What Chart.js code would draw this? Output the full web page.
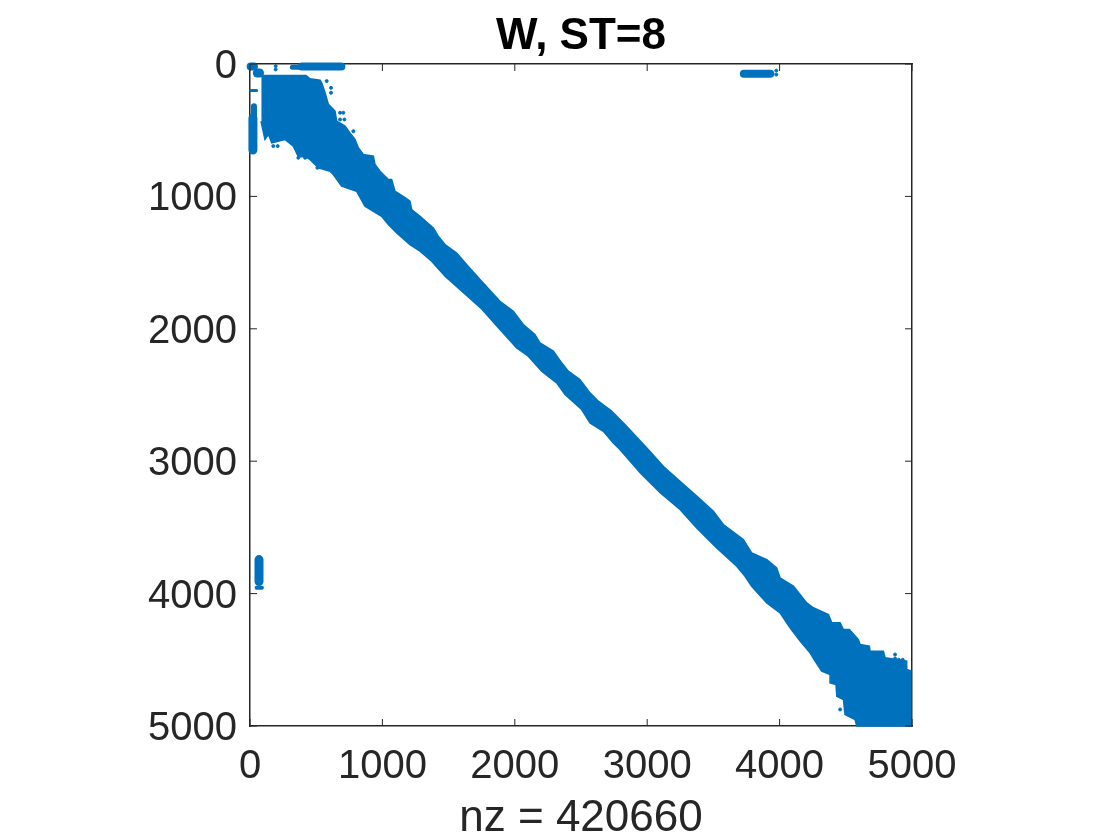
<!DOCTYPE html>
<html>
<head>
<meta charset="utf-8">
<title>W, ST=8</title>
<script src="https://cdn.jsdelivr.net/npm/chart.js@4"></script>
<style>
    html, body { margin: 0; padding: 0; background: #fff; }
    canvas { display: block; }
</style>
</head>
<body>
<canvas id="spyChart" width="1120" height="840"></canvas>
<script>
// Axis ticks
const tickValues = [0, 1000, 2000, 3000, 4000, 5000];

// Main diagonal band, upper and lower edge
const bandTopX = [85, 423, 453, 529, 541, 567, 592, 642, 655, 718, 755, 793, 818, 856, 932, 944, 982, 1045, 1070, 1095, 1171, 1208, 1221, 1284, 1385, 1422, 1473, 1561, 1636, 1737, 1888, 1989, 2064, 2152, 2190, 2291, 2354, 2404, 2492, 2568, 2631, 2731, 2832, 3008, 3123, 3248, 3374, 3500, 3575, 3726, 3789, 3903, 3978, 4003, 4104, 4205, 4255, 4369, 4394, 4457, 4482, 4527, 4595, 4608, 4678, 4683, 4784, 4797, 4960, 4960, 4998];
const bandTopY = [87, 87, 112, 122, 142, 217, 305, 356, 431, 469, 520, 570, 633, 683, 696, 759, 810, 873, 873, 961, 1010, 1036, 1099, 1150, 1238, 1301, 1364, 1427, 1515, 1628, 1792, 1867, 1968, 2043, 2106, 2169, 2257, 2320, 2383, 2484, 2547, 2622, 2723, 2912, 3040, 3151, 3264, 3378, 3478, 3592, 3692, 3743, 3806, 3881, 3944, 4070, 4107, 4158, 4221, 4221, 4271, 4271, 4347, 4384, 4397, 4435, 4435, 4485, 4510, 4573, 4586];
const bandBottomX = [83, 113, 139, 164, 264, 327, 365, 416, 453, 516, 604, 629, 692, 805, 868, 994, 1045, 1108, 1208, 1284, 1372, 1473, 1600, 1750, 1888, 2014, 2102, 2203, 2316, 2379, 2505, 2568, 2669, 2744, 2794, 2950, 3100, 3248, 3374, 3525, 3676, 3739, 3789, 3903, 4003, 4079, 4155, 4230, 4268, 4318, 4381, 4381, 4426, 4432, 4482, 4494, 4570, 4583, 5000];
const bandBottomY = [431, 570, 532, 595, 570, 620, 700, 700, 721, 784, 810, 835, 923, 961, 1074, 1150, 1213, 1276, 1364, 1414, 1490, 1603, 1715, 1850, 2006, 2144, 2207, 2320, 2408, 2497, 2610, 2711, 2774, 2862, 2912, 3090, 3240, 3365, 3504, 3655, 3793, 3869, 3944, 4070, 4146, 4259, 4359, 4447, 4510, 4586, 4611, 4674, 4687, 4775, 4800, 4913, 4951, 5000, 5000];

// Isolated clusters
const cornerX = [5, 30];
const cornerY = [19, 19];
const cornerBX = [55, 72];
const cornerBY = [68, 68];
const topStripX = [390, 690];
const topStripY = [18, 18];
const topStripThinX = [320, 390];
const topStripThinY = [25, 25];
const rightStripX = [3730, 3930];
const rightStripY = [74, 74];
const leftStripX = [22, 22];
const leftStripY = [410, 650];
const leftUpperX = [30, 30];
const leftUpperY = [320, 400];
const leftDashX = [5, 50];
const leftDashY = [200, 200];
const lowerStripX = [68, 68];
const lowerStripY = [3743, 3909];
const lowerFootX = [50, 90];
const lowerFootY = [3955, 3955];

// Loose points around the band edges
const speckX = [194, 194, 3975, 3975, 579, 612, 612, 680, 705, 680, 713, 781, 176, 209, 365, 416, 509, 4457, 4500, 4570, 4872, 4872, 4900, 4930];
const speckY = [16, 41, 50, 80, 129, 180, 217, 368, 368, 419, 419, 507, 620, 620, 708, 708, 784, 4875, 4875, 4875, 4460, 4490, 4500, 4500];

const BLUE = '#0072BD';
const INK = '#262626';

function toPoints(xs, ys) {
    return xs.map((x, i) => ({ x: x, y: ys[i] }));
}

function lump(xs, ys, width) {
    return {
        data: toPoints(xs, ys),
        showLine: true,
        borderColor: BLUE,
        borderWidth: width,
        borderCapStyle: 'round',
        pointRadius: 0,
        clip: false
    };
}

// MATLAB style ticks pointing into the box, on all four sides
const inwardTicks = {
    id: 'inwardTicks',
    afterDraw(chart) {
        const { ctx, chartArea, scales } = chart;
        ctx.save();
        ctx.strokeStyle = INK;
        ctx.lineWidth = 1;
        ctx.beginPath();
        tickValues.forEach(v => {
            const px = scales.x.getPixelForValue(v);
            const py = scales.y.getPixelForValue(v);
            ctx.moveTo(px, chartArea.bottom);
            ctx.lineTo(px, chartArea.bottom - 7);
            ctx.moveTo(px, chartArea.top);
            ctx.lineTo(px, chartArea.top + 7);
            ctx.moveTo(chartArea.left, py);
            ctx.lineTo(chartArea.left + 7, py);
            ctx.moveTo(chartArea.right, py);
            ctx.lineTo(chartArea.right - 7, py);
        });
        ctx.stroke();
        ctx.restore();
    }
};

function useTickValues(scale) {
    scale.ticks = tickValues.map(v => ({ value: v }));
}

const hiddenGrid = { drawOnChartArea: false, drawTicks: false };
const boxBorder = { display: true, color: INK, width: 1.5 };

new Chart(document.getElementById('spyChart').getContext('2d'), {
    type: 'scatter',
    data: {
        datasets: [
            {
                data: toPoints(bandTopX, bandTopY),
                showLine: true,
                borderColor: BLUE,
                backgroundColor: BLUE,
                borderWidth: 1.5,
                pointRadius: 0,
                fill: '+1',
                clip: false
            },
            {
                data: toPoints(bandBottomX, bandBottomY),
                showLine: true,
                borderColor: BLUE,
                borderWidth: 1.5,
                pointRadius: 0,
                clip: false
            },
            lump(cornerX, cornerY, 8),
            lump(cornerBX, cornerBY, 9),
            lump(topStripX, topStripY, 8),
            lump(topStripThinX, topStripThinY, 5),
            lump(rightStripX, rightStripY, 8),
            lump(leftStripX, leftStripY, 9),
            lump(leftUpperX, leftUpperY, 6),
            lump(leftDashX, leftDashY, 3),
            lump(lowerStripX, lowerStripY, 9),
            lump(lowerFootX, lowerFootY, 4),
            {
                data: toPoints(speckX, speckY),
                showLine: false,
                backgroundColor: BLUE,
                borderColor: BLUE,
                pointRadius: 1.5,
                clip: false
            }
        ]
    },
    options: {
        responsive: false,
        animation: false,
        devicePixelRatio: 1,
        layout: { padding: { left: 0, right: 208, top: 0, bottom: 0 } },
        plugins: {
            legend: { display: false },
            tooltip: { enabled: false }
        },
        scales: {
            x: {
                type: 'linear',
                position: 'bottom',
                min: 0,
                max: 5000,
                afterBuildTicks: useTickValues,
                afterFit(scale) { scale.height = 114; },
                grid: hiddenGrid,
                border: boxBorder,
                ticks: {
                    autoSkip: false,
                    maxRotation: 0,
                    padding: 17,
                    color: INK,
                    font: { family: '"Liberation Sans"', size: 40 },
                    callback: v => String(v)
                },
                title: {
                    display: true,
                    text: 'nz = 420660',
                    color: INK,
                    font: { family: '"Liberation Sans"', size: 44, lineHeight: 1 },
                    padding: { top: 0, bottom: -1 }
                }
            },
            xTop: {
                type: 'linear',
                position: 'top',
                min: 0,
                max: 5000,
                afterFit(scale) { scale.height = 64; },
                grid: hiddenGrid,
                border: boxBorder,
                ticks: { display: false },
                title: {
                    display: true,
                    text: 'W, ST=8',
                    color: '#000',
                    font: { family: '"Liberation Sans"', size: 44, weight: 'bold', lineHeight: 1 },
                    padding: { top: 15, bottom: 0 }
                }
            },
            y: {
                type: 'linear',
                position: 'left',
                reverse: true,
                min: 0,
                max: 5000,
                afterBuildTicks: useTickValues,
                afterFit(scale) { scale.width = 250; },
                grid: hiddenGrid,
                border: boxBorder,
                ticks: {
                    autoSkip: false,
                    padding: 13,
                    labelOffset: 3,
                    color: INK,
                    font: { family: '"Liberation Sans"', size: 40 },
                    callback: v => String(v)
                }
            },
            yRight: {
                type: 'linear',
                position: 'right',
                reverse: true,
                min: 0,
                max: 5000,
                afterFit(scale) { scale.width = 0; },
                grid: hiddenGrid,
                border: boxBorder,
                ticks: { display: false }
            }
        }
    },
    plugins: [inwardTicks]
});
</script>
</body>
</html>
